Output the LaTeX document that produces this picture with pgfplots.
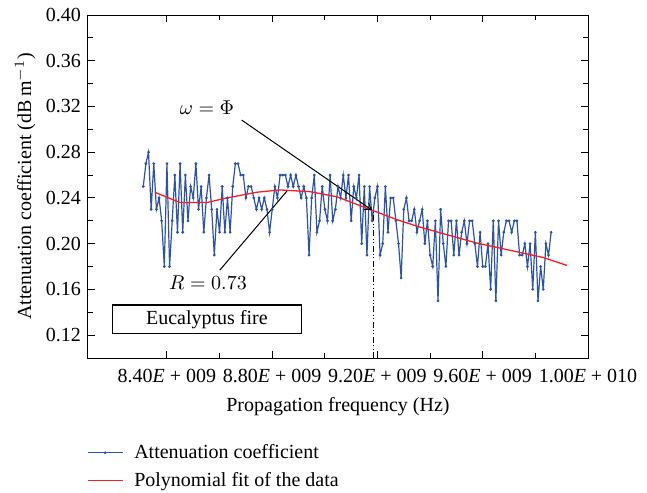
\documentclass[border=0pt]{standalone}
\usepackage{fontspec}
\setmainfont{Liberation Serif}
\usepackage{pgfplots}
\usepackage{pgfplotstable}
\pgfplotsset{compat=1.18}
\usetikzlibrary{arrows.meta}
\definecolor{blueline}{RGB}{45,82,172}
\definecolor{redline}{RGB}{250,30,30}

\pgfplotstableread{
x y
8.31 0.25
8.32 0.27
8.33 0.28
8.34 0.23
8.35 0.27
8.36 0.23
8.37 0.24
8.38 0.22
8.39 0.18
8.40 0.27
8.41 0.18
8.42 0.22
8.43 0.26
8.44 0.21
8.45 0.27
8.46 0.21
8.47 0.26
8.48 0.22
8.49 0.25
8.50 0.24
8.51 0.27
8.52 0.23
8.53 0.25
8.54 0.21
8.55 0.24
8.56 0.26
8.57 0.23
8.58 0.19
8.59 0.23
8.60 0.21
8.61 0.25
8.62 0.21
8.63 0.24
8.64 0.21
8.65 0.25
8.66 0.27
8.67 0.27
8.68 0.26
8.69 0.26
8.70 0.24
8.71 0.25
8.72 0.25
8.73 0.24
8.74 0.23
8.75 0.24
8.76 0.23
8.77 0.24
8.78 0.23
8.79 0.21
8.80 0.23
8.81 0.25
8.82 0.24
8.83 0.26
8.84 0.26
8.85 0.26
8.86 0.25
8.87 0.26
8.88 0.25
8.89 0.26
8.90 0.25
8.91 0.24
8.92 0.25
8.93 0.24
8.94 0.19
8.95 0.24
8.96 0.26
8.97 0.21
8.98 0.22
8.99 0.25
9.00 0.23
9.01 0.22
9.02 0.26
9.03 0.22
9.04 0.23
9.05 0.25
9.06 0.24
9.07 0.26
9.08 0.24
9.09 0.26
9.10 0.22
9.11 0.25
9.12 0.24
9.13 0.26
9.14 0.20
9.15 0.25
9.16 0.19
9.17 0.25
9.18 0.22
9.19 0.24
9.20 0.25
9.21 0.19
9.22 0.20
9.23 0.25
9.24 0.21
9.25 0.24
9.26 0.24
9.27 0.22
9.28 0.20
9.29 0.17
9.30 0.23
9.31 0.24
9.32 0.22
9.33 0.22
9.34 0.23
9.35 0.21
9.36 0.22
9.37 0.23
9.38 0.20
9.39 0.22
9.40 0.19
9.41 0.18
9.42 0.22
9.43 0.15
9.44 0.23
9.45 0.20
9.46 0.18
9.47 0.22
9.48 0.22
9.49 0.19
9.50 0.22
9.51 0.19
9.52 0.21
9.53 0.22
9.54 0.20
9.55 0.22
9.56 0.22
9.57 0.20
9.58 0.18
9.59 0.21
9.60 0.18
9.61 0.18
9.62 0.20
9.63 0.16
9.64 0.22
9.65 0.15
9.66 0.22
9.67 0.19
9.68 0.21
9.69 0.22
9.70 0.22
9.71 0.21
9.72 0.22
9.73 0.22
9.74 0.19
9.75 0.19
9.76 0.20
9.77 0.18
9.78 0.20
9.79 0.16
9.80 0.21
9.81 0.15
9.82 0.18
9.83 0.16
9.84 0.20
9.85 0.19
9.86 0.21
}\attdata

\pgfplotstableread{
x y
8.354 0.245
8.449 0.236
8.552 0.236
8.628 0.240
8.742 0.245
8.829 0.247
8.943 0.2455
9.046 0.241
9.171 0.230
9.274 0.221
9.361 0.2145
9.578 0.2005
9.828 0.188
9.920 0.181
}\fitdata

\begin{document}
\begin{tikzpicture}
\begin{axis}[
  at={(0,0)}, anchor=south west,
  scale only axis, width=250pt, height=171.5pt,
  xmin=8.1, xmax=10.0, ymin=0.10, ymax=0.40,
  xtick={8.4,8.8,9.2,9.6,10.0},
  xticklabels={8.40\textit{E} + 009, 8.80\textit{E} + 009, 9.20\textit{E} + 009, 9.60\textit{E} + 009, 1.00\textit{E} + 010},
  minor x tick num=1,
  ytick={0.12,0.16,0.20,0.24,0.28,0.32,0.36,0.40},
  yticklabels={0.12,0.16,0.20,0.24,0.28,0.32,0.36,0.40},
  minor y tick num=1,
  tick align=inside,
  major tick length=3.5pt, minor tick length=2.5pt,
  axis line style={line width=0.5pt},
  every tick/.style={black, line width=0.5pt},
  tick label style={font=\fontsize{10}{12}\selectfont},
  xticklabel style={yshift=-2pt},
  every axis x label/.style={at={(axis description cs:0.5,0)}, yshift=-24.3pt, anchor=center},
  every axis y label/.style={at={(axis description cs:0,0.5)}, xshift=-31.5pt, rotate=90, anchor=center},
  xlabel={Propagation frequency (Hz)},
  ylabel={Attenuation coefficient (dB\,m$^{-1}$)},
  legend style={at={(-0.014,-0.228)}, anchor=north west, draw=white, line width=0pt,
    font=\fontsize{10}{12}\selectfont, row sep=1.5pt,
    /tikz/every odd column/.append style={column sep=3.5pt}},
  legend cell align=left,
  legend image code/.code={\draw[mark repeat=2,mark phase=2,#1] plot coordinates {(0pt,0pt) (8.75pt,0pt) (17.5pt,0pt)};},
]
\addplot[blueline, line width=0.6pt, mark=*, mark size=0.35pt] table[x=x,y=y] {\attdata};
\addlegendentry{Attenuation coefficient}
\addplot[redline, line width=0.65pt] table[x=x,y=y] {\fitdata};
\addlegendentry{Polynomial fit of the data}

\draw[line width=0.5pt, dash pattern=on 3pt off 1.2pt on 0.5pt off 1.2pt on 0.5pt off 1.2pt]
  (axis cs:9.183,0.10) -- (axis cs:9.183,0.229);
\draw[line width=0.5pt, -{Straight Barb[length=3pt,width=4pt]}]
  (axis cs:8.684,0.3081) -- (axis cs:9.179,0.2294);
\draw[line width=0.5pt] (axis cs:8.601,0.1769) -- (axis cs:8.856,0.246);
\node at (axis cs:8.552,0.3186) {$\omega=\Phi$};
\node at (axis cs:8.556,0.1655) {$R=0.73$};
\draw[line width=0.6pt] (axis cs:8.192,0.1215) rectangle (axis cs:8.912,0.1463);
\node at (axis cs:8.552,0.1339) {Eucalyptus fire};
\end{axis}
\pgfresetboundingbox
\useasboundingbox (-44pt,-67pt) rectangle (279.5pt,179pt);
\end{tikzpicture}
\end{document}
